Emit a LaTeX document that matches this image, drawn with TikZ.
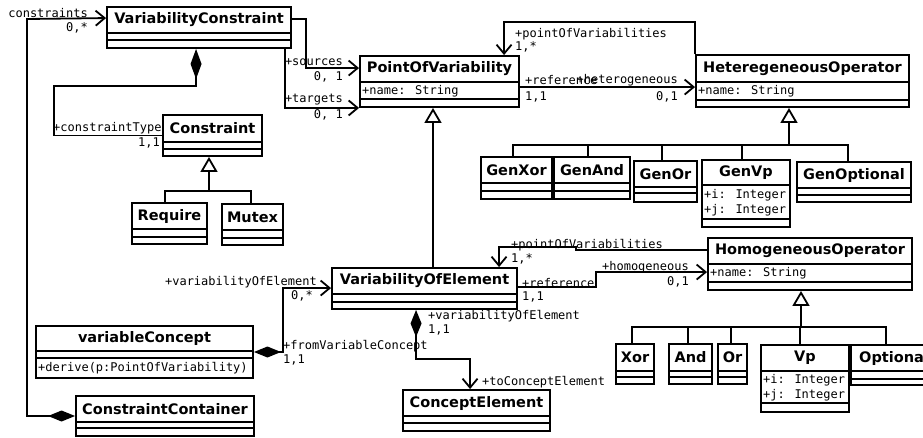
\documentclass[tikz,border=0pt]{standalone}
\usepackage{fontspec}
\setmainfont{DejaVu Sans}
\newfontfamily\monof{DejaVu Sans Mono}
\usetikzlibrary{arrows.meta,calc,fit}
\tikzset{
  classbox/.style={draw, line width=1.9pt, inner sep=0pt, fill=white},
  boxline/.style={line width=1.9pt},
  classname/.style={font=\bfseries\fontsize{14.5}{17}\selectfont, inner sep=0pt},
  attr/.style={font=\monof\fontsize{12}{14}\selectfont, inner sep=0pt, anchor=west},
  lab/.style={font=\monof\fontsize{12}{14}\selectfont, inner sep=0pt},
  conn/.style={line width=1.8pt},
  openend/.style={-{Straight Barb[length=9pt,width=15pt]}},
  compopen/.style={{Diamond[length=27pt,width=11pt]}-{Straight Barb[length=9pt,width=15pt]}},
  comp/.style={{Diamond[length=30pt,width=11pt]}-},
  gen/.style={-{Triangle[open,length=15pt,width=17pt]}},
}
\newcommand\umlclass[8]{%
  \node[classbox, fit={(#2,#3)(#4,#5)}] (#1) {};
  \draw[boxline] (#2,#6) -- (#4,#6) (#2,#7) -- (#4,#7);
  \node[classname] (#1-t) at ({(#2+#4)/2},{(#3+#6)/2}) {#8};
}
\begin{document}
\begin{tikzpicture}[x=1pt,y=-1pt]
\useasboundingbox (0,0) rectangle (923,437);
\clip (0,0) rectangle (923,437);

% classes
\umlclass{vcon}{107}{7}{291}{48}{33}{40}{VariabilityConstraint}
\umlclass{cons}{163}{115}{262}{156}{142}{149}{Constraint}
\umlclass{req}{132}{203}{207}{244}{229}{237}{Require}
\umlclass{mut}{222}{204}{283}{245}{230}{238}{Mutex}
\umlclass{pov}{360}{56}{519}{107}{82}{99}{PointOfVariability}
\node[attr] (pov-a) at (362,91) {+name: String};
\umlclass{het}{696}{55}{909}{107}{82}{100}{HeteregeneousOperator}
\node[attr] (het-a) at (698,91) {+name: String};
\umlclass{gxor}{481}{157}{552}{199}{183}{191}{GenXor}
\umlclass{gand}{554}{157}{630}{199}{183}{191}{GenAnd}
\umlclass{gor}{634}{161}{697}{202}{187}{193}{GenOr}
\umlclass{gvp}{702}{160}{790}{227}{185}{219}{GenVp}
\node[attr] (gvp-a) at (704,195) {+i: Integer};
\node[attr] (gvp-b) at (704,210) {+j: Integer};
\umlclass{gopt}{797}{162}{911}{202}{188}{195}{GenOptional}
\umlclass{voe}{332}{268}{517}{309}{294}{302}{VariabilityOfElement}
\umlclass{hom}{708}{238}{912}{290}{264}{282}{HomogeneousOperator}
\node[attr] (hom-a) at (710,273) {+name: String};
\umlclass{xor}{616}{344}{654}{384}{371}{377}{Xor}
\umlclass{and}{669}{344}{712}{384}{371}{377}{And}
\umlclass{or}{718}{344}{747}{384}{371}{377}{Or}
\umlclass{vp}{761}{345}{849}{412}{371}{403}{Vp}
\node[attr] (vp-a) at (763,380) {+i: Integer};
\node[attr] (vp-b) at (763,395) {+j: Integer};
\umlclass{opt}{851}{345}{937}{385}{371}{379}{Optional}
\umlclass{ce}{403}{390}{550}{431}{416}{423}{ConceptElement}
\umlclass{vc}{36}{326}{253}{378}{351}{358}{variableConcept}
\node[attr] (vc-a) at (38,368) {+derive(p:PointOfVariability)};
\umlclass{cc}{76}{396}{254}{436}{422}{428}{ConstraintContainer}

% coordinates for bends
\coordinate (cbend) at (27,19);
\coordinate (ct1) at (54,86);
\coordinate (consbar) at (209,191);
\coordinate (hetbar) at (789,145);
\coordinate (hombar) at (801,327);
\coordinate (povgen) at (433,268);

% constraints
\draw[conn, compopen] (cc.west) -| (cbend) -- ($(vcon.north west)+(0,12)$);
\node[lab, anchor=east] (l1) at (88,13) {constraints};
\node[lab, anchor=east] (l2) at (88,28) {0,*};

% constraintType
\draw[conn, comp] ($(vcon.south west)+(90,0)$) |- (ct1) |- (cons.west);
\node[lab, anchor=west] (l3) at (53,128) {+constraintType};
\node[lab, anchor=east] (l4) at (160,143) {1,1};

% constraint generalization
\draw[conn, gen] (consbar) -- (consbar |- cons.south);
\draw[conn] ($(req.north west)+(34,0)$) |- (consbar);
\draw[conn] ($(mut.north west)+(30,0)$) |- (consbar);

% sources / targets
\draw[conn, openend] ($(vcon.north east)+(0,13)$) -- ++(14,0) |- ($(pov.north west)+(0,13)$);
\node[lab, anchor=east] (l5) at (343,62) {+sources};
\node[lab, anchor=east] (l6) at (343,77) {0, 1};
\draw[conn, openend] ($(vcon.south east)+(-7,0)$) |- (pov.south west);
\node[lab, anchor=east] (l7) at (343,100) {+targets};
\node[lab, anchor=east] (l8) at (343,115) {0, 1};

% het -> pov
\draw[conn, openend] (het.north west) -- ++(0,-32) -| ($(pov.north west)+(145,0)$);
\node[lab, anchor=west] (l9) at (515,34) {+pointOfVariabilities};
\node[lab, anchor=west] (l10) at (515,47) {1,*};
\draw[conn, openend] ($(pov.north east)+(0,32)$) -- ($(het.north west)+(0,33)$);
\node[lab, anchor=west] (l11) at (525,80) {+reference};
\node[lab, anchor=west] (l12) at (525,97) {1,1};
\node[lab, anchor=east] (l13) at (678,80) {+heterogeneous};
\node[lab, anchor=east] (l14) at (678,97) {0,1};

% het generalization
\draw[conn, gen] (hetbar) -- (hetbar |- het.south);
\draw[conn] ($(gxor.north west)+(33,0)$) |- (hetbar);
\draw[conn] ($(gand.north west)+(35,0)$) |- (hetbar);
\draw[conn] ($(gor.north west)+(29,0)$) |- (hetbar);
\draw[conn] ($(gvp.north west)+(41,0)$) |- (hetbar);
\draw[conn] ($(gopt.north west)+(52,0)$) |- (hetbar);

% voe -> pov generalization
\draw[conn, gen] (povgen) -- (povgen |- pov.south);

% hom -> voe
\draw[conn, openend] ($(hom.north west)+(0,13)$) -- ++(-131,0) -- ++(0,-3) -| ($(voe.north west)+(168,0)$);
\node[lab, anchor=west] (l15) at (511,245) {+pointOfVariabilities};
\node[lab, anchor=west] (l16) at (511,259) {1,*};
\draw[conn, openend] ($(voe.north east)+(0,20)$) -- ++(78,0) |- ($(hom.north west)+(0,35)$);
\node[lab, anchor=west] (l17) at (522,283) {+reference};
\node[lab, anchor=west] (l18) at (522,297) {1,1};
\node[lab, anchor=east] (l19) at (689,267) {+homogeneous};
\node[lab, anchor=east] (l20) at (689,282) {0,1};

% hom generalization
\draw[conn, gen] (hombar) -- (hombar |- hom.south);
\draw[conn] ($(xor.north west)+(17,0)$) |- (hombar);
\draw[conn] ($(and.north west)+(20,0)$) |- (hombar);
\draw[conn] ($(or.north west)+(14,0)$) |- (hombar);
\draw[conn] ($(vp.north west)+(40,0)$) |- (hombar);
\draw[conn] ($(opt.north west)+(36,0)$) |- (hombar);

% voe -> ce
\draw[conn, compopen] ($(voe.south west)+(85,0)$) -- ++(0,49) -| ($(ce.north west)+(68,0)$);
\node[lab, anchor=west] (l21) at (428,316) {+variabilityOfElement};
\node[lab, anchor=west] (l22) at (428,330) {1,1};
\node[lab, anchor=west] (l23) at (482,382) {+toConceptElement};

% vc -> voe
\draw[conn, compopen] (vc.east) -- ++(29,0) |- ($(voe.north west)+(0,21)$);
\node[lab, anchor=east] (l24) at (317,282) {+variabilityOfElement};
\node[lab, anchor=east] (l25) at (313,296) {0,*};
\node[lab, anchor=west] (l26) at (283,346) {+fromVariableConcept};
\node[lab, anchor=west] (l27) at (283,360) {1,1};
\end{tikzpicture}
\end{document}
